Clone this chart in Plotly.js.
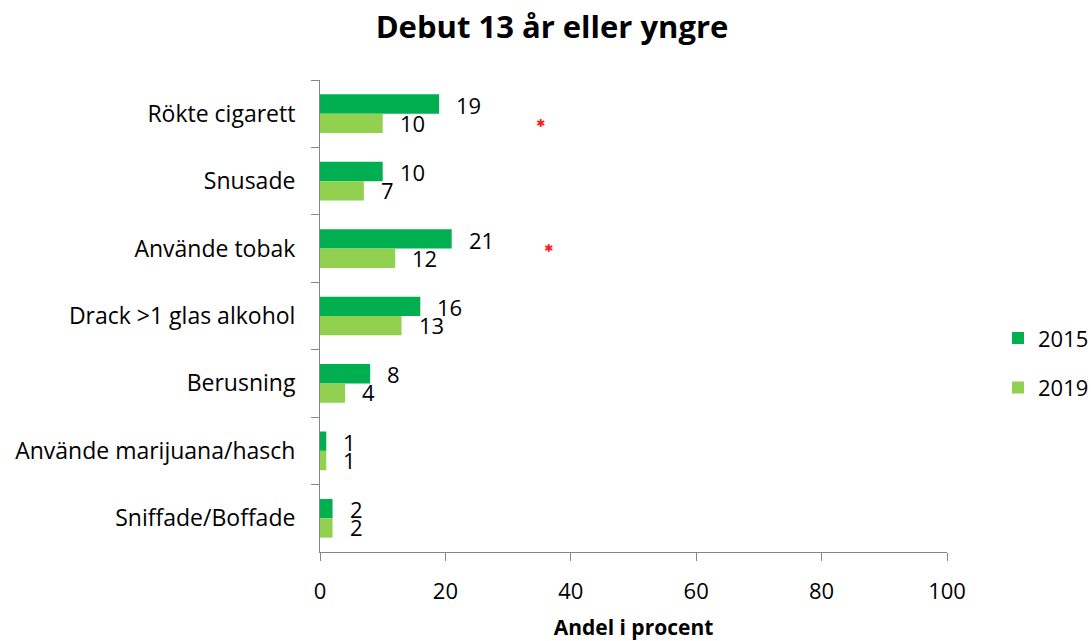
<!DOCTYPE html>
<html>
<head>
<meta charset="utf-8">
<script src="https://cdn.plot.ly/plotly-3.0.1.min.js"></script>
<style>html,body{margin:0;padding:0;background:#fff;}#chart{width:1091px;height:641px;}</style>
</head>
<body>
<div id="chart"></div>
<script>
const categories = ['Rökte cigarett','Snusade','Använde tobak','Drack >1 glas alkohol','Berusning','Använde marijuana/hasch','Sniffade/Boffade'];
const values2015 = [19, 10, 21, 16, 8, 1, 2];
const values2019 = [10, 7, 12, 13, 4, 1, 2];
const seriesNames = ['2015', '2019'];
const xTicks = [0, 20, 40, 60, 80, 100];
// significance markers (red asterisks)
const sigCategories = ['Rökte cigarett', 'Använde tobak'];
const sigX = [35.1, 36.4];
const sigRowShift = [-10, 0];

const FONT = '"Open Sans", Lato, sans-serif';
const colors = ['#00B050', '#92D050'];

const traces = [values2015, values2019].map((vals, i) => ({
  type: 'bar', orientation: 'h',
  name: seriesNames[i], legendgroup: 'g' + i,
  x: vals, y: categories,
  marker: {color: colors[i]},
  hoverinfo: 'x+y+name'
}));

const annotations = [];
[values2015, values2019].forEach((vals, s) => {
  vals.forEach((v, i) => {
    annotations.push({
      x: v, y: categories[i], xref: 'x', yref: 'y',
      text: String(v), showarrow: false,
      xanchor: 'left', yanchor: 'middle',
      xshift: 15, yshift: s === 0 ? 9 : -9,
      font: {family: FONT, size: 22, color: '#000'}
    });
  });
});
sigCategories.forEach((c, i) => {
  annotations.push({
    x: sigX[i], y: c, xref: 'x', yref: 'y',
    text: '✱', showarrow: false, xanchor: 'center', yanchor: 'middle',
    yshift: sigRowShift[i],
    font: {family: 'DejaVu Sans', size: 11, color: '#ff1a1a'}
  });
});

const layout = {
  width: 1091, height: 641,
  paper_bgcolor: '#fff', plot_bgcolor: '#fff',
  margin: {l: 320, r: 144, t: 80, b: 89},
  font: {family: FONT, size: 22, color: '#000'},
  title: {text: '<b>Debut 13 år eller yngre</b>', x: 552/1091, xanchor: 'center', xref: 'container',
          y: 0.957, yanchor: 'middle', yref: 'container',
          font: {family: FONT, size: 31, color: '#000'}},
  barmode: 'group', bargap: 0.426, bargroupgap: 0,
  xaxis: {range: [0, 100], tickvals: xTicks, ticktext: xTicks.map(String),
          showgrid: false, zeroline: false, showline: true, linecolor: '#868686', linewidth: 1,
          ticks: 'outside', ticklen: 8, tickcolor: '#868686', tickwidth: 1,
          ticklabelstandoff: 12,
          tickfont: {family: FONT, size: 22, color: '#000'},
          title: {text: '<b>Andel i procent</b>', standoff: 16, font: {family: FONT, size: 21, color: '#000'}},
          fixedrange: true},
  yaxis: {type: 'category', categoryorder: 'array', categoryarray: categories, autorange: 'reversed',
          showgrid: false, zeroline: false, showline: true, linecolor: '#868686', linewidth: 1,
          ticks: 'outside', ticklen: 8, tickcolor: '#868686', tickwidth: 1, tickson: 'boundaries',
          ticklabelstandoff: 19,
          tickfont: {family: FONT, size: 23, color: '#000'}, fixedrange: true},
  legend: {x: 998/1091, xref: 'container', xanchor: 'left', y: 0.40, yanchor: 'middle', traceorder: 'grouped',
           tracegroupgap: 18, font: {family: FONT, size: 22, color: '#000'}, bgcolor: 'rgba(0,0,0,0)'},
  annotations: annotations,
  showlegend: true
};

Plotly.newPlot('chart', traces, layout, {displayModeBar: false, staticPlot: true});
</script>
</body>
</html>
